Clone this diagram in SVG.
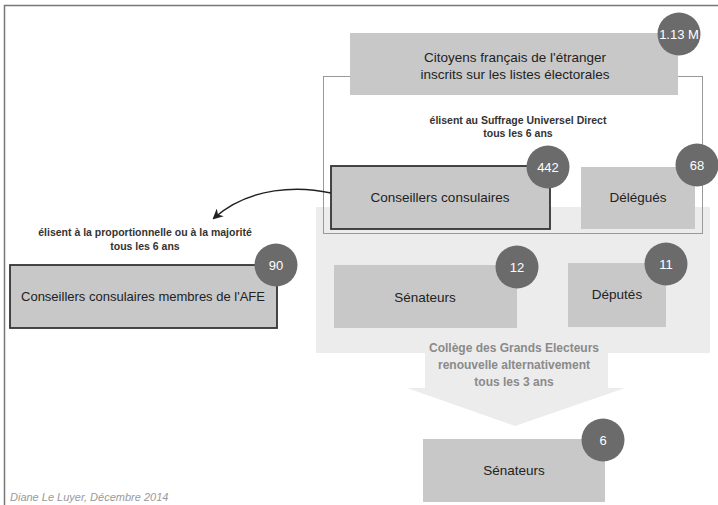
<svg xmlns="http://www.w3.org/2000/svg" width="718" height="505" viewBox="0 0 718 505">
<style>
text{font-family:"Liberation Sans",Arial,sans-serif;fill:#222;}
.box{fill:#c8c8c8;}
.boxb{fill:#c8c8c8;stroke:#333;stroke-width:1.8;}
.badge{fill:#6b6b6b;}
.bt{fill:#fff;font-size:13px;text-anchor:middle;}
.lbl{font-size:13.5px;text-anchor:middle;}
.sm{font-size:10.5px;text-anchor:middle;font-weight:bold;fill:#333;}
.col{font-size:12px;text-anchor:middle;font-weight:bold;fill:#8a8a8a;}
</style>
<defs>
<marker id="ah" viewBox="0 0 10 10" refX="8" refY="5" markerWidth="7" markerHeight="7" orient="auto-start-reverse">
<path d="M0,0 L10,5 L0,10 L3,5 z" fill="#222"/>
</marker>
</defs>
<rect width="718" height="505" fill="#fff"/>
<path d="M4.5,505 V5.5 H718" fill="none" stroke="#777" stroke-width="1.5"/>
<g id="college">
<rect x="316" y="207" width="394" height="146" fill="#ececec"/>
<path d="M425,353 H608 V388 H625 L515,426 L407,388 H425 z" fill="#ececec"/>
<text class="col" x="514" y="352">Collège des Grands Electeurs</text>
<text class="col" x="514" y="369">renouvelle alternativement</text>
<text class="col" x="514" y="386">tous les 3 ans</text>
</g>
<g id="scrutin-frame">
<rect x="323.5" y="76.5" width="379" height="157" fill="none" stroke="#999" stroke-width="1"/>
<text class="sm" x="518" y="124">élisent au Suffrage Universel Direct</text>
<text class="sm" x="518" y="137">tous les 6 ans</text>
</g>
<g id="citoyens">
<rect class="box" x="350" y="33" width="328" height="62"/>
<text class="lbl" x="515" y="62">Citoyens français de l'étranger</text>
<text class="lbl" x="515" y="79">inscrits sur les listes électorales</text>
<circle class="badge" cx="679" cy="34" r="21.5"/>
<text class="bt" x="679" y="39">1.13 M</text>
</g>
<g id="conseillers">
<rect class="boxb" x="331" y="166" width="219" height="63"/>
<text class="lbl" x="440" y="202">Conseillers consulaires</text>
<circle class="badge" cx="548" cy="167" r="21.5"/>
<text class="bt" x="548" y="172">442</text>
</g>
<g id="delegues">
<rect class="box" x="581" y="167" width="114" height="62"/>
<text class="lbl" x="638" y="202">Délégués</text>
<circle class="badge" cx="697" cy="165" r="21.5"/>
<text class="bt" x="697" y="170">68</text>
</g>
<g id="senateurs12">
<rect class="box" x="334" y="265" width="183" height="63"/>
<text class="lbl" x="425" y="302">Sénateurs</text>
<circle class="badge" cx="517" cy="267" r="21.5"/>
<text class="bt" x="517" y="272">12</text>
</g>
<g id="deputes">
<rect class="box" x="568" y="263" width="98" height="64"/>
<text class="lbl" x="617" y="299">Députés</text>
<circle class="badge" cx="666" cy="264" r="21.5"/>
<text class="bt" x="666" y="269">11</text>
</g>
<g id="senateurs6">
<rect class="box" x="423" y="439" width="182" height="63"/>
<text class="lbl" x="514" y="475">Sénateurs</text>
<circle class="badge" cx="603" cy="440" r="21.5"/>
<text class="bt" x="603" y="445">6</text>
</g>
<g id="afe">
<rect class="boxb" x="10" y="265" width="267" height="63"/>
<text class="lbl" x="143" y="301" textLength="244" lengthAdjust="spacingAndGlyphs">Conseillers consulaires membres de l'AFE</text>
<circle class="badge" cx="276" cy="265" r="21.5"/>
<text class="bt" x="276" y="270">90</text>
</g>
<g id="connectors">
<path d="M331,193 C300,186 250,186 214,218" fill="none" stroke="#222" stroke-width="1.5" marker-end="url(#ah)"/>
<text class="sm" x="145" y="236">élisent à la proportionnelle ou à la majorité</text>
<text class="sm" x="145" y="250">tous les 6 ans</text>
</g>
<text x="10" y="501" font-size="11" font-style="italic" style="fill:#9a9a9a">Diane Le Luyer, Décembre 2014</text>
</svg>
